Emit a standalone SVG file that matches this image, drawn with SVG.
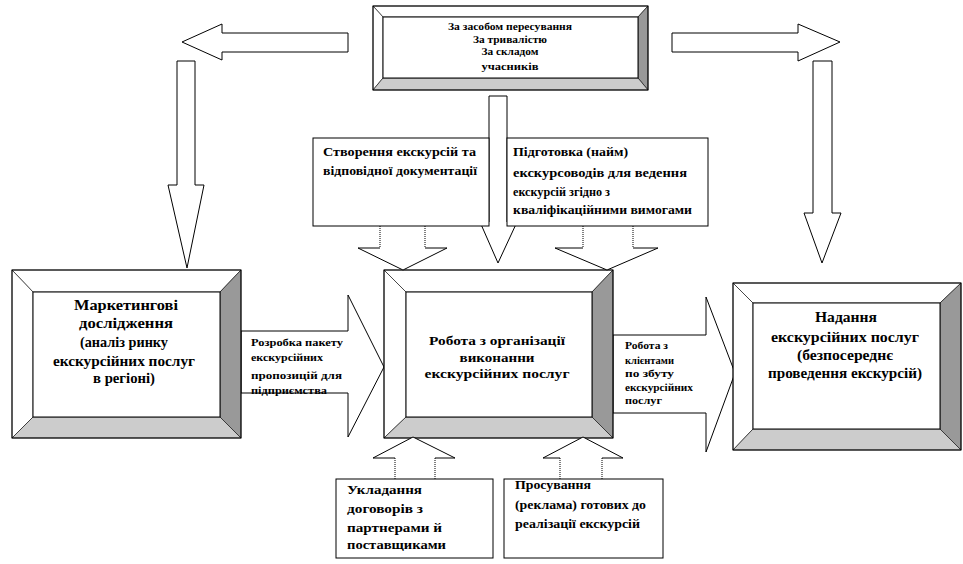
<svg xmlns="http://www.w3.org/2000/svg" width="963" height="564" viewBox="0 0 963 564">
<style>
text{font-family:"Times New Roman","Liberation Serif","DejaVu Serif",serif;font-weight:700;fill:#000}
.c{text-anchor:middle}
.o{fill:#fff;stroke:#000;stroke-width:1}
.lt{fill:#fff;stroke:#000;stroke-width:0.6}
.dk{fill:#999;stroke:#000;stroke-width:0.6}
.md{fill:#ccc;stroke:#000;stroke-width:0.6}
.ar{fill:#fff;stroke:#000;stroke-width:1;stroke-linejoin:miter}
.dot{stroke:#000;stroke-width:1;stroke-dasharray:1 1;fill:none}
</style>
<rect width="963" height="564" fill="#fff"/>

<g id="connectors">
<polygon class="ar" points="348,33 222,33 222,24 182,42 222,60 222,52 348,52"/>
<polygon class="ar" points="672,33 798,33 798,24 840,42 798,61 798,52 672,52"/>
<polygon class="ar" points="177,61 195,61 195,185 204,185 187,268 168,185 177,185"/>
<polygon class="ar" points="813,61 832,61 832,213 841,213 822,263 804,213 813,213"/>
<polygon class="ar" points="489,96 507,96 507,222 517,222 498,263 480,222 489,222"/>
<polygon class="ar" points="241,331 348,331 348,295 384,367 348,437 348,393 241,393"/>
<polygon class="ar" points="613,335 706,335 706,297 735,373 706,452 706,413 613,413"/>
</g>

<g id="box-top">
<polygon class="lt" points="373,6 648,6 638,17 383,17"/>
<polygon class="lt" points="373,6 383,17 383,78 373,90"/>
<polygon class="dk" points="648,6 648,90 638,78 638,17"/>
<polygon class="md" points="373,90 648,90 638,78 383,78"/>
<rect x="373" y="6" width="275" height="84" fill="none" stroke="#000"/>
<rect x="383" y="17" width="255" height="61" class="o"/>
<text class="c" x="510" y="29.5" font-size="9.5" textLength="124" lengthAdjust="spacingAndGlyphs">За засобом пересування</text>
<text class="c" x="510" y="43" font-size="9.5" textLength="74" lengthAdjust="spacingAndGlyphs">За тривалістю</text>
<text class="c" x="510" y="55" font-size="9.5" textLength="57" lengthAdjust="spacingAndGlyphs">За складом</text>
<text class="c" x="510" y="70" font-size="11" textLength="57" lengthAdjust="spacingAndGlyphs">учасників</text>
</g>

<g id="box-left">
<polygon class="lt" points="12,270 241,270 220,292 33,292"/>
<polygon class="lt" points="12,270 33,292 33,417 12,438"/>
<polygon class="dk" points="241,270 241,438 220,417 220,292"/>
<polygon class="md" points="12,438 241,438 220,417 33,417"/>
<rect x="12" y="270" width="229" height="168" fill="none" stroke="#000"/>
<rect x="33" y="292" width="187" height="125" class="o"/>
<text class="c" x="126" y="310" font-size="14" textLength="104" lengthAdjust="spacingAndGlyphs">Маркетингові</text>
<text class="c" x="126" y="328" font-size="14" textLength="94" lengthAdjust="spacingAndGlyphs">дослідження</text>
<text class="c" x="124" y="347" font-size="14" textLength="88" lengthAdjust="spacingAndGlyphs">(аналіз ринку</text>
<text class="c" x="124" y="366" font-size="14" textLength="142" lengthAdjust="spacingAndGlyphs">екскурсійних   послуг</text>
<text class="c" x="124" y="383" font-size="14" textLength="62" lengthAdjust="spacingAndGlyphs">в регіоні)</text>
</g>

<g id="box-center">
<polygon class="lt" points="384,270 613,270 592,292 406,292"/>
<polygon class="lt" points="384,270 406,292 406,417 384,438"/>
<polygon class="dk" points="613,270 613,438 592,417 592,292"/>
<polygon class="md" points="384,438 613,438 592,417 406,417"/>
<rect x="384" y="270" width="229" height="168" fill="none" stroke="#000"/>
<rect x="406" y="292" width="186" height="125" class="o"/>
<text class="c" x="497" y="345" font-size="13.5" textLength="136" lengthAdjust="spacingAndGlyphs">Робота з організації</text>
<text class="c" x="497" y="362" font-size="13.5" textLength="75" lengthAdjust="spacingAndGlyphs">виконанни</text>
<text class="c" x="497" y="378" font-size="13.5" textLength="145" lengthAdjust="spacingAndGlyphs">екскурсійних послуг</text>
</g>

<g id="box-right">
<polygon class="lt" points="733,283 961,283 940,303 753,303"/>
<polygon class="lt" points="733,283 753,303 753,429 733,450"/>
<polygon class="dk" points="961,283 961,450 940,429 940,303"/>
<polygon class="md" points="733,450 961,450 940,429 753,429"/>
<rect x="733" y="283" width="228" height="167" fill="none" stroke="#000"/>
<rect x="753" y="303" width="187" height="126" class="o"/>
<text class="c" x="846" y="322" font-size="14" textLength="62" lengthAdjust="spacingAndGlyphs">Надання</text>
<text class="c" x="845" y="342" font-size="14" textLength="148" lengthAdjust="spacingAndGlyphs">екскурсійних  послуг</text>
<text class="c" x="845" y="360" font-size="14" textLength="96" lengthAdjust="spacingAndGlyphs">(безпосереднє</text>
<text class="c" x="845" y="378" font-size="14" textLength="154" lengthAdjust="spacingAndGlyphs">проведення екскурсій)</text>
</g>

<g id="label-left-arrow">
<text x="251" y="346" font-size="11" textLength="92" lengthAdjust="spacingAndGlyphs">Розробка пакету</text>
<text x="251" y="361" font-size="11" textLength="72" lengthAdjust="spacingAndGlyphs">екскурсійних</text>
<text x="251" y="379" font-size="11" textLength="91" lengthAdjust="spacingAndGlyphs">пропозицій для</text>
<text x="251" y="394" font-size="11" textLength="76" lengthAdjust="spacingAndGlyphs">підприємства</text>
</g>

<g id="label-right-arrow">
<text x="625" y="349" font-size="9.5" textLength="43" lengthAdjust="spacingAndGlyphs">Робота з</text>
<text x="625" y="364" font-size="9.5" textLength="49" lengthAdjust="spacingAndGlyphs">клієнтами</text>
<text x="625" y="377" font-size="9.5" textLength="49" lengthAdjust="spacingAndGlyphs">по збуту</text>
<text x="625" y="391" font-size="9.5" textLength="68" lengthAdjust="spacingAndGlyphs">екскурсійних</text>
<text x="625" y="404" font-size="9.5" textLength="37" lengthAdjust="spacingAndGlyphs">послуг</text>
</g>

<g id="callout-top-left">
<rect x="313" y="138" width="176" height="88" class="o"/>
<line class="dot" x1="380" y1="226" x2="380" y2="248"/>
<line class="dot" x1="425" y1="226" x2="425" y2="248"/>
<polyline class="ar" points="380,248 358,248 403,270 447,248 425,248"/>
<text x="323" y="156" font-size="13" textLength="153" lengthAdjust="spacingAndGlyphs">Створення екскурсій  та</text>
<text x="323" y="175" font-size="13" textLength="154" lengthAdjust="spacingAndGlyphs">відповідної  документації</text>
</g>

<g id="callout-top-right">
<rect x="507" y="138" width="201" height="88" class="o"/>
<line class="dot" x1="583" y1="226" x2="583" y2="248"/>
<line class="dot" x1="633" y1="226" x2="633" y2="248"/>
<polyline class="ar" points="583,248 555,248 607,270 658,248 633,248"/>
<text x="513" y="156" font-size="13" textLength="115" lengthAdjust="spacingAndGlyphs">Підготовка (найм)</text>
<text x="513" y="177" font-size="13" textLength="174" lengthAdjust="spacingAndGlyphs">екскурсоводів  для ведення</text>
<text x="513" y="196" font-size="13" textLength="97" lengthAdjust="spacingAndGlyphs">екскурсій згідно з</text>
<text x="513" y="214" font-size="13" textLength="179" lengthAdjust="spacingAndGlyphs">кваліфікаційними  вимогами</text>
</g>

<g id="callout-bottom-left">
<rect x="336" y="479" width="157" height="79" class="o"/>
<line class="dot" x1="395" y1="458" x2="395" y2="479"/>
<line class="dot" x1="435" y1="458" x2="435" y2="479"/>
<polyline class="ar" points="395,458 373,458 413,437 455,458 435,458"/>
<text x="347" y="494" font-size="13" textLength="75" lengthAdjust="spacingAndGlyphs">Укладання</text>
<text x="347" y="513" font-size="13" textLength="76" lengthAdjust="spacingAndGlyphs">договорів  з</text>
<text x="347" y="532" font-size="13" textLength="95" lengthAdjust="spacingAndGlyphs">партнерами й</text>
<text x="347" y="549" font-size="13" textLength="99" lengthAdjust="spacingAndGlyphs">поставщиками</text>
</g>

<g id="callout-bottom-right">
<rect x="504" y="479" width="159" height="79" class="o"/>
<line class="dot" x1="560" y1="458" x2="560" y2="479"/>
<line class="dot" x1="602" y1="458" x2="602" y2="479"/>
<polyline class="ar" points="560,458 543,458 583,437 623,458 602,458"/>
<text x="515" y="489" font-size="13" textLength="76" lengthAdjust="spacingAndGlyphs">Просування</text>
<text x="515" y="509" font-size="13" textLength="131" lengthAdjust="spacingAndGlyphs">(реклама) готових до</text>
<text x="515" y="528" font-size="13" textLength="125" lengthAdjust="spacingAndGlyphs">реалізації  екскурсій</text>
</g>
</svg>
